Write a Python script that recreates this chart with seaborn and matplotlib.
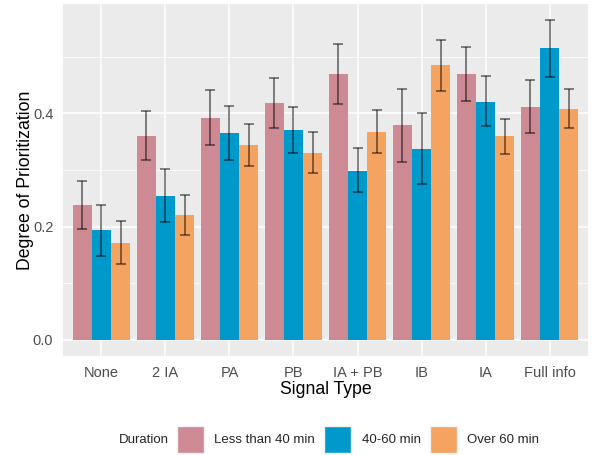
import numpy as np
import pandas as pd
import matplotlib
matplotlib.use("Agg")
import matplotlib.pyplot as plt
import seaborn as sns
from matplotlib.patches import Patch
from matplotlib.offsetbox import HPacker

signal_types = ["None", "2 IA", "PA", "PB", "IA + PB", "IB", "IA", "Full info"]
durations = ["Less than 40 min", "40-60 min", "Over 60 min"]

mean_lt40 = [0.238, 0.360, 0.392, 0.418, 0.469, 0.379, 0.469, 0.412]
mean_40_60 = [0.194, 0.254, 0.365, 0.371, 0.299, 0.338, 0.421, 0.515]
mean_gt60 = [0.172, 0.221, 0.344, 0.331, 0.368, 0.485, 0.360, 0.408]

low_lt40 = [0.196, 0.317, 0.345, 0.374, 0.417, 0.315, 0.422, 0.365]
high_lt40 = [0.280, 0.405, 0.441, 0.463, 0.523, 0.444, 0.517, 0.459]
low_40_60 = [0.149, 0.208, 0.318, 0.331, 0.261, 0.275, 0.377, 0.465]
high_40_60 = [0.239, 0.302, 0.414, 0.411, 0.339, 0.401, 0.466, 0.565]
low_gt60 = [0.135, 0.186, 0.307, 0.295, 0.331, 0.439, 0.328, 0.374]
high_gt60 = [0.210, 0.256, 0.381, 0.367, 0.406, 0.530, 0.391, 0.443]

palette = ["#CD8A95", "#0099CC", "#F4A460"]

rows = []
for d, m, lo, hi in zip(durations,
                        [mean_lt40, mean_40_60, mean_gt60],
                        [low_lt40, low_40_60, low_gt60],
                        [high_lt40, high_40_60, high_gt60]):
    for s, mv, l, h in zip(signal_types, m, lo, hi):
        rows.append({"Signal Type": s, "Duration": d, "value": mv, "lo": l, "hi": h})
df = pd.DataFrame(rows)

sns.set_theme(style="darkgrid", rc={
    "axes.facecolor": "#EBEBEB",
    "grid.color": "white",
    "axes.edgecolor": "#EBEBEB",
})
plt.rcParams["font.family"] = ["Liberation Sans", "DejaVu Sans"]

fig = plt.figure(figsize=(5.92, 4.55), dpi=100)
ax = fig.add_axes([63 / 592, 99 / 455, 525 / 592, 352 / 455])

sns.barplot(data=df, x="Signal Type", y="value", hue="Duration",
            order=signal_types, hue_order=durations, palette=palette,
            errorbar=None, width=0.9, saturation=1, linewidth=0, ax=ax,
            legend=False)

# error bars at each bar's center
bars = [p for p in ax.patches]
for i, d in enumerate(durations):
    sub = df[df["Duration"] == d].set_index("Signal Type").loc[signal_types]
    patches = bars[i * len(signal_types):(i + 1) * len(signal_types)]
    xs = [p.get_x() + p.get_width() / 2 for p in patches]
    ax.errorbar(xs, sub["value"].values,
                yerr=[sub["value"].values - sub["lo"].values,
                      sub["hi"].values - sub["value"].values],
                fmt="none", ecolor=(0, 0, 0, 0.6), elinewidth=1.1,
                capsize=3.4, capthick=1.1, zorder=5)

ax.set_xlim(-0.6, len(signal_types) - 0.4)
ax.set_ylim(-0.0283, 0.5933)
ax.set_yticks([0.0, 0.2, 0.4])
ax.set_yticklabels(["0.0", "0.2", "0.4"])
ax.set_yticks([0.1, 0.3, 0.5], minor=True)
ax.grid(True, which="major", color="white", linewidth=1.1)
ax.grid(True, which="minor", axis="y", color="white", linewidth=0.55)
ax.set_axisbelow(True)
for sp in ax.spines.values():
    sp.set_visible(False)

ax.tick_params(axis="both", which="major", length=4.5, width=1.0, color="#333333",
               labelsize=10.5, labelcolor="#4D4D4D", pad=2.5)
ax.tick_params(axis="both", which="minor", length=0)
ax.set_xlabel("Signal Type", fontsize=12.7, color="black", labelpad=1)
ax.set_ylabel("Degree of Prioritization", fontsize=12.7, color="black", labelpad=-1)

handles = [Patch(facecolor=c, edgecolor="#F2F2F2", linewidth=1) for c in palette]
leg = fig.legend(handles, durations, loc="center", bbox_to_anchor=(329 / 592, 0.034),
                 ncol=3, frameon=False, fontsize=9.5, title="Duration",
                 title_fontsize=9.5, handlelength=2.05, handleheight=2.77,
                 handletextpad=0.78, columnspacing=0.7, borderaxespad=0,
                 borderpad=0)
# title sits to the left of the keys in one row
title_box = leg._legend_title_box
hbox = leg._legend_handle_box
leg._legend_box._children = [HPacker(pad=0, sep=6, children=[title_box, hbox],
                                     align="center")]

fig.savefig("out.png", dpi=100)
